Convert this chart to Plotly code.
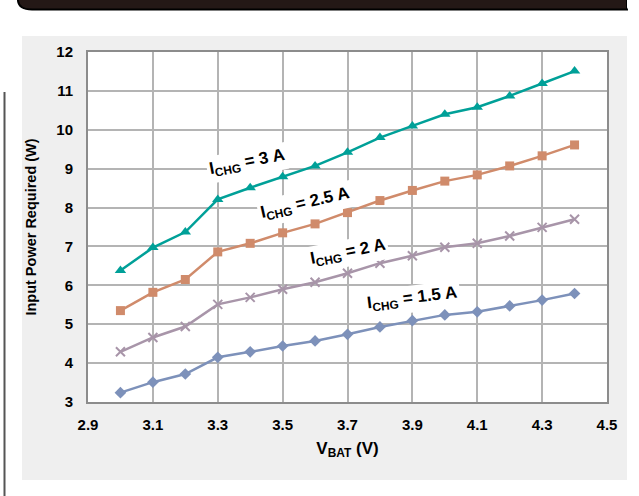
import plotly.graph_objects as go

vbat = [3.0, 3.1, 3.2, 3.3, 3.4, 3.5, 3.6, 3.7, 3.8, 3.9, 4.0, 4.1, 4.2, 4.3, 4.4]
p_3a = [6.38, 6.97, 7.37, 8.21, 8.51, 8.79, 9.07, 9.42, 9.80, 10.10, 10.40, 10.58, 10.87, 11.19, 11.51]
p_25a = [5.35, 5.82, 6.15, 6.86, 7.08, 7.35, 7.58, 7.87, 8.18, 8.44, 8.68, 8.84, 9.07, 9.33, 9.61]
p_2a = [4.29, 4.66, 4.94, 5.51, 5.69, 5.90, 6.08, 6.31, 6.57, 6.76, 6.98, 7.08, 7.27, 7.49, 7.70]
p_15a = [3.24, 3.51, 3.72, 4.15, 4.29, 4.44, 4.57, 4.74, 4.93, 5.09, 5.24, 5.32, 5.47, 5.62, 5.79]

labels = ["I<sub>CHG</sub> = 3 A", "I<sub>CHG</sub> = 2.5 A", "I<sub>CHG</sub> = 2 A", "I<sub>CHG</sub> = 1.5 A"]
label_x = [3.39, 3.57, 3.70, 3.90]
label_y = [9.15, 8.09, 6.83, 5.65]
label_angle = [-11, -13, -11, -7]

x_ticks = [2.9, 3.1, 3.3, 3.5, 3.7, 3.9, 4.1, 4.3, 4.5]
y_ticks = [3, 4, 5, 6, 7, 8, 9, 10, 11, 12]

FONT = "Arial, Liberation Sans, sans-serif"

fig = go.Figure()

series = [
    (p_3a, "#00A098", "triangle-up", 10, 0),
    (p_25a, "#D08B6B", "square", 9, 0),
    (p_2a, "#A895A9", "x-thin", 9, 2),
    (p_15a, "#7D91BA", "diamond", 9, 0),
]
for vals, col, sym, sz, lw in series:
    fig.add_trace(go.Scatter(
        x=vbat, y=vals, mode="lines+markers",
        line=dict(color=col, width=2.5),
        marker=dict(symbol=sym, size=sz, color=col,
                    line=dict(color=col, width=lw)),
        showlegend=False,
    ))

for t, lx, ly, ang in zip(labels, label_x, label_y, label_angle):
    fig.add_annotation(x=lx, y=ly, text=t, showarrow=False, textangle=ang,
                       bgcolor="white", borderpad=2,
                       font=dict(family=FONT, size=17, color="black", weight="bold"))

W, H = 639, 496
L, R, T, B = 88, 607, 52, 402


def px(xp):
    return (xp - L) / (R - L)


def py(yp):
    return (B - yp) / (B - T)


shapes = [
    # gray panel
    dict(type="rect", xref="paper", yref="paper", layer="below",
         x0=px(22), x1=px(627), y0=py(480), y1=py(36),
         fillcolor="#EFEFEF", line=dict(width=0)),
    # white plot area on top of the panel
    dict(type="rect", xref="paper", yref="paper", layer="below",
         x0=0, x1=1, y0=0, y1=1,
         fillcolor="white", line=dict(width=0)),
    # left vertical rule
    dict(type="line", xref="paper", yref="paper",
         x0=px(4.5), x1=px(4.5), y0=py(92), y1=py(497),
         line=dict(color="#555555", width=2)),
    # top dark bar with rounded corner
    dict(type="path", xref="paper", yref="paper",
         path=(f"M {px(18)},{py(-5)} L {px(18)},{py(1)} "
               f"Q {px(19)},{py(9.5)} {px(32)},{py(9.5)} "
               f"L {px(627)},{py(9.5)} L {px(627)},{py(-5)} Z"),
         fillcolor="#241816", line=dict(color="#000000", width=2)),
    dict(type="path", xref="paper", yref="paper",
         path=(f"M {px(627)},{py(-5)} L {px(627)},{py(9.5)} "
               f"Q {px(630)},{py(0)} {px(640)},{py(-5)} Z"),
         fillcolor="white", line=dict(width=0)),
]

fig.update_layout(
    width=W, height=H,
    margin=dict(l=L, r=W - R, t=T, b=H - B),
    paper_bgcolor="white", plot_bgcolor="white",
    font=dict(family=FONT, size=13, color="black"),
    shapes=shapes,
    xaxis=dict(range=[2.9, 4.5], tickvals=x_ticks,
               ticktext=[f"{v:.1f}" for v in x_ticks],
               showgrid=True, gridcolor="#B4B4B4", gridwidth=1.5,
               showline=True, linecolor="#8C8C8C", linewidth=2, mirror=True,
               ticks="outside", ticklen=8, tickcolor="rgba(0,0,0,0)",
               tickfont=dict(family=FONT, size=15, color="black", weight="bold"),
               title=dict(text="V<sub>BAT</sub> (V)", standoff=10,
                          font=dict(family=FONT, size=17, color="black", weight="bold")),
               zeroline=False),
    yaxis=dict(range=[3, 12], tickvals=y_ticks,
               showgrid=True, gridcolor="#B4B4B4", gridwidth=1.5,
               showline=True, linecolor="#8C8C8C", linewidth=2, mirror=True,
               ticks="outside", ticklen=10, tickcolor="rgba(0,0,0,0)",
               tickfont=dict(family=FONT, size=15, color="black", weight="bold"),
               title=dict(text="Input Power Required (W)", standoff=16,
                          font=dict(family=FONT, size=14.5, color="black", weight="bold")),
               zeroline=False),
)

fig.write_html("out.html", config={"displayModeBar": False},
               post_script="document.body.style.margin='0';")
